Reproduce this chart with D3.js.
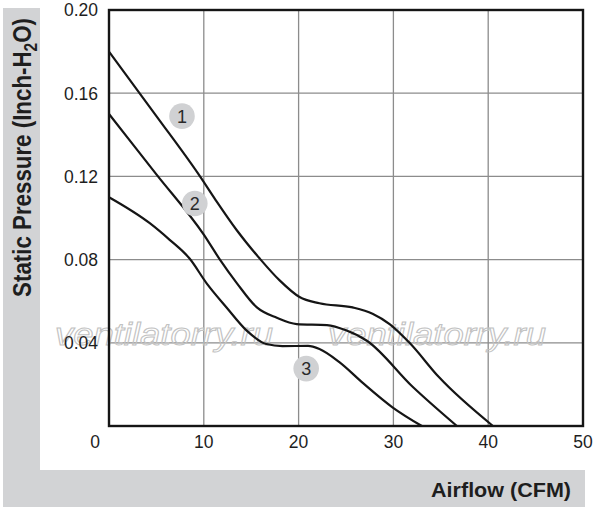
<!DOCTYPE html>
<html>
<head>
<meta charset="utf-8">
<script src="https://cdn.jsdelivr.net/npm/d3@7.9.0/dist/d3.min.js"></script>
<style>
  body { margin: 0; background: #fff; }
  text { font-family: "Liberation Sans", Arial, sans-serif; }
</style>
</head>
<body>
<div id="chart"></div>
<script>
// data: airflow (CFM) vs static pressure (inch H2O)
const xTicks = [0, 10, 20, 30, 40, 50];
const yTicks = [0.04, 0.08, 0.12, 0.16, 0.20];

const curve1 = [[0, 0.18], [5, 0.149], [9.6, 0.12], [11.2, 0.109], [13.5, 0.094], [15.9, 0.0805],
  [18, 0.07], [20.1, 0.062], [22.2, 0.059], [25.7, 0.057], [27.8, 0.054], [29.6, 0.049],
  [31.7, 0.04], [34.8, 0.0235], [40.5, 0]];
const curve2 = [[0, 0.15], [5, 0.121], [10, 0.092], [11.7, 0.08], [13.5, 0.0686], [15.6, 0.057],
  [17.7, 0.052], [19.8, 0.049], [23, 0.0485], [25, 0.046], [27.2, 0.041], [32, 0.019], [36.7, 0]];
const curve3 = [[0, 0.11], [4.3, 0.0975], [6.4, 0.0895], [8.5, 0.0805], [10.3, 0.0686],
  [12.4, 0.057], [14.5, 0.046], [16.6, 0.0394], [18.3, 0.0384], [21, 0.0385], [22.2, 0.037],
  [24.3, 0.0307], [26.8, 0.0206], [29.9, 0.009], [33, 0]];
const curves = [curve1, curve2, curve3];

// numbered markers: [label, airflow, pressure]
const markers = [["1", 7.7, 0.149], ["2", 9.05, 0.107], ["3", 20.8, 0.0276]];

const W = 600, H = 510;
const svg = d3.select("#chart").append("svg")
  .attr("width", W)
  .attr("height", H);

// grey frame bands
svg.append("rect").attr("x", 3).attr("y", 8).attr("width", 37).attr("height", 499).attr("fill", "#d2d3d5");
svg.append("rect").attr("x", 3).attr("y", 470).attr("width", 582).attr("height", 37).attr("fill", "#d2d3d5");

const x = d3.scaleLinear().domain([0, 50]).range([109, 583]);
const y = d3.scaleLinear().domain([0, 0.2]).range([426, 10]);

// grid
const grid = svg.append("g");
grid.selectAll("line.v")
  .data(xTicks.slice(1, -1))
  .join("line")
    .attr("x1", d => x(d)).attr("x2", d => x(d))
    .attr("y1", y(0)).attr("y2", y(0.2))
    .attr("stroke", "#8c8c8c").attr("stroke-width", 1.3);
grid.selectAll("line.h")
  .data(yTicks.slice(0, -1))
  .join("line")
    .attr("x1", x(0)).attr("x2", x(50))
    .attr("y1", d => y(d)).attr("y2", d => y(d))
    .attr("stroke", "#8c8c8c").attr("stroke-width", 1.3);

// watermark
[55, 328].forEach(x0 => {
  svg.append("text")
    .attr("x", x0)
    .attr("y", 345)
    .attr("font-size", 31)
    .attr("font-style", "italic")
    .attr("textLength", 218)
    .attr("lengthAdjust", "spacingAndGlyphs")
    .attr("fill", "none")
    .attr("stroke", "#c2c2c2")
    .attr("stroke-width", 1)
    .text("ventilatorry.ru");
});

// curves
const line = d3.line()
  .x(d => x(d[0]))
  .y(d => y(d[1]))
  .curve(d3.curveMonotoneX);

svg.append("g")
  .selectAll("path")
  .data(curves)
  .join("path")
    .attr("d", line)
    .attr("fill", "none")
    .attr("stroke", "#151515")
    .attr("stroke-width", 2.2);

// markers
const mk = svg.append("g")
  .selectAll("g")
  .data(markers)
  .join("g")
    .attr("transform", d => `translate(${x(d[1])},${y(d[2])})`);
mk.append("circle").attr("r", 12.8).attr("fill", "#d0d1d3");
mk.append("text")
  .attr("text-anchor", "middle")
  .attr("dy", "0.36em")
  .attr("font-size", 18)
  .attr("fill", "#2a2a2a")
  .text(d => d[0]);

// plot border
svg.append("rect")
  .attr("x", x(0)).attr("y", y(0.2))
  .attr("width", x(50) - x(0)).attr("height", y(0) - y(0.2))
  .attr("fill", "none")
  .attr("stroke", "#151515")
  .attr("stroke-width", 2.4);

// tick labels
svg.append("g")
  .selectAll("text")
  .data(yTicks)
  .join("text")
    .attr("x", 98)
    .attr("y", d => y(d))
    .attr("dy", "0.36em")
    .attr("text-anchor", "end")
    .attr("font-size", 17.5)
    .attr("fill", "#1e1e1e")
    .text(d => d.toFixed(2));

svg.append("g")
  .selectAll("text")
  .data(xTicks)
  .join("text")
    .attr("x", d => d === 0 ? x(d) - 14 : x(d))
    .attr("y", 448)
    .attr("text-anchor", "middle")
    .attr("font-size", 17.5)
    .attr("fill", "#1e1e1e")
    .text(d => d);

// axis titles
const yt = svg.append("text")
  .attr("text-anchor", "middle")
  .attr("font-size", 26)
  .attr("font-weight", "bold")
  .attr("fill", "#1e1e1e");
yt.append("tspan").text("Static Pressure (Inch-H");
yt.append("tspan").attr("font-size", 18).attr("dy", 6).text("2");
yt.append("tspan").attr("dy", -6).text("O)");
// squeeze along the reading direction so it spans the band like the reference
const ytLen = yt.node().getComputedTextLength();
yt.attr("transform", `translate(31,157.5) rotate(-90) scale(${279 / ytLen},1)`);

const xt = svg.append("text")
  .attr("text-anchor", "end")
  .attr("font-size", 21)
  .attr("font-weight", "bold")
  .attr("fill", "#1e1e1e")
  .text("Airflow (CFM)");
const xtLen = xt.node().getComputedTextLength();
xt.attr("transform", `translate(571,497) scale(${140 / xtLen},1)`);
</script>
</body>
</html>
